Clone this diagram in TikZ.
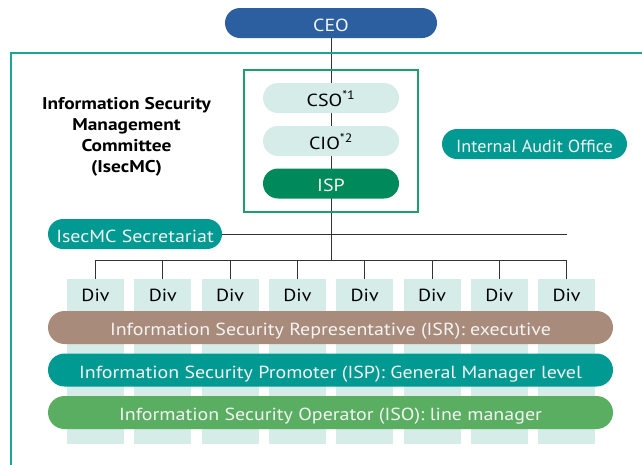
\documentclass[tikz,border=0pt]{standalone}
\usepackage{fontspec}
\usepackage{graphicx}
\setmainfont[FakeStretch=1.14]{PT Sans}
\usetikzlibrary{backgrounds}
\definecolor{ceoblue}{HTML}{2C5F9F}
\definecolor{frameteal}{HTML}{1AA59A}
\definecolor{boxgreen}{HTML}{1E9E6E}
\definecolor{paleteal}{HTML}{D5ECE8}
\definecolor{ispgreen}{HTML}{00895A}
\definecolor{teal}{HTML}{009A93}
\definecolor{isrbrown}{HTML}{A88B7B}
\definecolor{isogreen}{HTML}{5AAE61}
\definecolor{linegrey}{HTML}{333333}
\definecolor{offwhite}{HTML}{F4F4F4}
\tikzset{
  pill/.style={rounded corners=#1, inner sep=0pt, text height=16pt, text depth=0pt,
    font=\fontsize{17.5}{20}\selectfont},
  pill/.default=15pt,
  darkpill/.style={pill, fill=#1, text=offwhite},
  lightpill/.style={pill, fill=paleteal, text=black},
  bar/.style={pill=16.5pt, fill=#1, text=offwhite, minimum width=565pt, minimum height=33pt},
  column/.style={fill=paleteal, inner sep=0pt, minimum width=57pt, minimum height=165pt},
  divtxt/.style={inner sep=0pt, font=\fontsize{17.5}{20}\selectfont},
  conn/.style={draw=linegrey, line width=0.9pt},
}
\begin{document}
\begin{tikzpicture}[x=1pt, y=-1pt]
\useasboundingbox (0,0) rectangle (642,464);

% outer frame of the organisation
\draw[frameteal, line width=1.3pt] (11,480) -- (11,53) -- (660,53);

% division columns behind the role bars
\foreach \i in {1,...,8}{
  \node[column] (div\i) at ({95.5+67.3*(\i-1)}, 361.5) {};
  \node[divtxt] at ([yshift=-17pt]div\i.north) {Div};
}

% top management
\node[darkpill=ceoblue, minimum width=212pt, minimum height=30pt] (ceo) at (331,23) {CEO};

% committee frame and members
\node[draw=boxgreen, line width=1.2pt, inner sep=0pt, minimum width=174pt, minimum height=142pt] (cmt) at (331,141) {};
\node[lightpill, minimum width=136pt, minimum height=30pt] (cso) at (331,98) {CSO\textsuperscript{*1}};
\node[lightpill, minimum width=136pt, minimum height=30pt] (cio) at (331,141) {CIO\textsuperscript{*2}};
\node[darkpill=ispgreen, minimum width=136pt, minimum height=30pt] (isp) at (331,183.5) {ISP};

\node[align=center, font=\fontsize{17}{21}\selectfont\bfseries, inner sep=0pt] (cmtname) at (126.5,137)
  {Information Security\\Management\\Committee\\(IsecMC)};

\node[darkpill=teal, minimum width=185pt, minimum height=30pt] (audit) at (534.5,144)
  {\scalebox{0.91}[1]{Internal Audit Office}};
\node[darkpill=teal, minimum width=174pt, minimum height=30pt] (sec) at (135,234) {IsecMC Secretariat};

% role bars across all divisions
\node[bar=isrbrown] (isr) at (330.5,327.5) {Information Security Representative (ISR): executive};
\node[bar=teal] (ispbar) at (330.5,370) {Information Security Promoter (ISP): General Manager level};
\node[bar=isogreen] (iso) at (330.5,412.5) {Information Security Operator (ISO): line manager};

% reporting lines, kept behind the boxes
\coordinate (bus) at (331,260);
\coordinate (secend) at (567,234);
\begin{scope}[on background layer]
  \fill[white] (0,0) rectangle (642,464);
  \draw[conn] (ceo.south) -- (bus);
  \draw[conn] (sec.east) -- (secend);
  \draw[conn] (div1.north |- bus) -- (div8.north |- bus);
  \foreach \i in {1,...,8}{
    \draw[conn] (div\i.north |- bus) -- (div\i.north);
  }
\end{scope}
\end{tikzpicture}
\end{document}
